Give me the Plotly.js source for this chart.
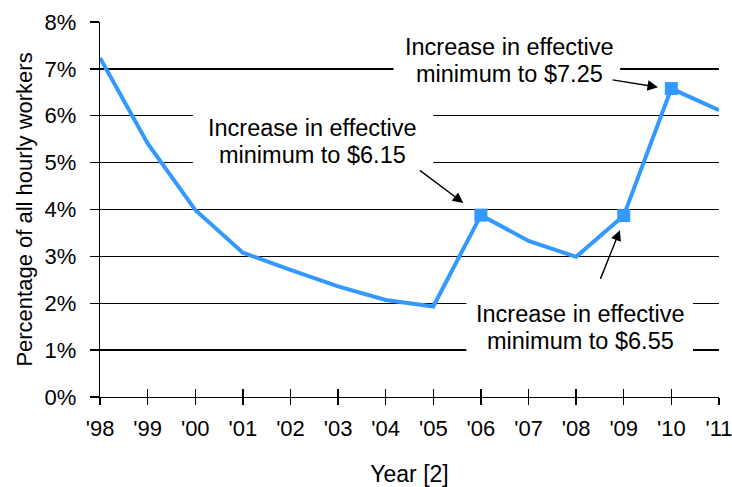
<!DOCTYPE html>
<html>
<head>
<meta charset="utf-8">
<script src="https://cdn.plot.ly/plotly-3.0.1.min.js"></script>
<style>
  html, body { margin: 0; padding: 0; background: #fff; }
  #chart { width: 732px; height: 487px; }
</style>
</head>
<body>
<div id="chart"></div>
<script>
// ---- data ----
const years = [1998, 1999, 2000, 2001, 2002, 2003, 2004, 2005, 2006, 2007, 2008, 2009, 2010, 2011];
const yearLabels = ["'98", "'99", "'00", "'01", "'02", "'03", "'04", "'05", "'06", "'07", "'08", "'09", "'10", "'11"];
const sharePct = [7.23, 5.41, 3.99, 3.08, 2.71, 2.36, 2.07, 1.93, 3.88, 3.33, 2.99, 3.87, 6.58, 6.12];
const increaseYears = [2006, 2009, 2010];
const increaseLabels = ["Increase in effective|minimum to $6.15",
                        "Increase in effective|minimum to $6.55",
                        "Increase in effective|minimum to $7.25"];
const yTicks = [0, 1, 2, 3, 4, 5, 6, 7, 8];
const yTickLabels = ['0%', '1%', '2%', '3%', '4%', '5%', '6%', '7%', '8%'];

const BLUE = '#3399FF';
const FONT = '"Liberation Sans", Arial, sans-serif';
const XR = [1997.999, 2011.001];

const incY = increaseYears.map(y => sharePct[years.indexOf(y)]);

const traces = [
  {
    x: years, y: sharePct, type: 'scatter', mode: 'lines',
    line: { color: BLUE, width: 4 }, hoverinfo: 'skip', showlegend: false
  },
  {
    x: increaseYears, y: incY, type: 'scatter', mode: 'markers',
    marker: { symbol: 'square', size: 13, color: BLUE }, cliponaxis: false,
    hoverinfo: 'skip', showlegend: false
  },
  {
    x: years, y: sharePct, type: 'scatter', mode: 'lines', xaxis: 'x2',
    line: { color: 'rgba(0,0,0,0)', width: 0 }, hoverinfo: 'skip', showlegend: false
  }
];

// white label backgrounds that break the gridlines
function bgBox(x0, x1, y0, y1) {
  return {
    type: 'rect', xref: 'x', yref: 'y', x0: x0, x1: x1, y0: y0, y1: y1,
    fillcolor: '#ffffff', line: { width: 0 }, layer: 'above'
  };
}
function textLine(txt, x, y) {
  return {
    text: txt, x: x, y: y, xref: 'x', yref: 'y', showarrow: false,
    font: { family: FONT, size: 23.5, color: '#000' },
    borderpad: 0, align: 'center', xanchor: 'center', yanchor: 'middle'
  };
}
function arrow(x, y, ax, ay) {
  return {
    text: ' ', x: x, y: y, xref: 'x', yref: 'y', ax: ax, ay: ay,
    showarrow: true, arrowhead: 2, arrowsize: 1.5, arrowwidth: 1.4,
    arrowcolor: '#000', standoff: 0, startstandoff: 0
  };
}

const l615 = increaseLabels[0].split('|');
const l655 = increaseLabels[1].split('|');
const l725 = increaseLabels[2].split('|');

const shapes = [
  bgBox(1999.95, 2005.0, 4.84, 6.08),
  bgBox(2004.165, 2008.925, 6.65, 7.72),
  bgBox(2005.695, 2010.455, 0.85, 2.09)
];

const annotations = [
  textLine(l615[0], 2002.47, 5.733),
  textLine(l615[1], 2002.47, 5.157),
  textLine(l725[0], 2006.60, 7.473),
  textLine(l725[1], 2006.60, 6.897),
  textLine(l655[0], 2008.09, 1.763),
  textLine(l655[1], 2008.09, 1.187),
  arrow(2005.63, 4.14, -48, -36),
  arrow(2009.72, 6.61, -50, -8),
  arrow(2008.92, 3.56, -24, 60)
];

const layout = {
  width: 732, height: 487,
  margin: { l: 100, r: 13, t: 22, b: 90, pad: 0 },
  paper_bgcolor: '#fff', plot_bgcolor: '#fff',
  font: { family: FONT, size: 22, color: '#000' },
  showlegend: false,
  xaxis: {
    range: XR, tickvals: years, ticktext: yearLabels,
    ticks: 'outside', ticklen: 7, tickwidth: 1.3, tickcolor: '#000',
    showgrid: false, zeroline: false, showline: true, linecolor: '#000', linewidth: 1.3,
    tickfont: { family: FONT, size: 22, color: '#000' },
    ticklabelstandoff: 4, ticklabeloverflow: 'allow',
    title: { text: 'Year [2]', font: { family: FONT, size: 23, color: '#000' }, standoff: 28 },
    automargin: false, fixedrange: true
  },
  xaxis2: {
    overlaying: 'x', side: 'bottom', anchor: 'y',
    range: XR, tickvals: years,
    ticks: 'inside', ticklen: 8, tickwidth: 1.3, tickcolor: '#000',
    showticklabels: false, showgrid: false, zeroline: false, showline: false
  },
  yaxis: {
    range: [0, 8], tickvals: yTicks, ticktext: yTickLabels,
    ticks: 'outside', ticklen: 9, tickwidth: 1.3, tickcolor: '#000',
    showgrid: true, gridcolor: '#000', gridwidth: 1.3,
    zeroline: false, showline: true, linecolor: '#000', linewidth: 1.3,
    tickfont: { family: FONT, size: 22, color: '#000' },
    ticklabelstandoff: 9, ticklabeloverflow: 'allow',
    title: { text: 'Percentage of all hourly workers', font: { family: FONT, size: 22, color: '#000' }, standoff: 5 },
    automargin: false, fixedrange: true
  },
  shapes: shapes,
  annotations: annotations
};

Plotly.newPlot('chart', traces, layout, { staticPlot: true, displayModeBar: false });
</script>
</body>
</html>
